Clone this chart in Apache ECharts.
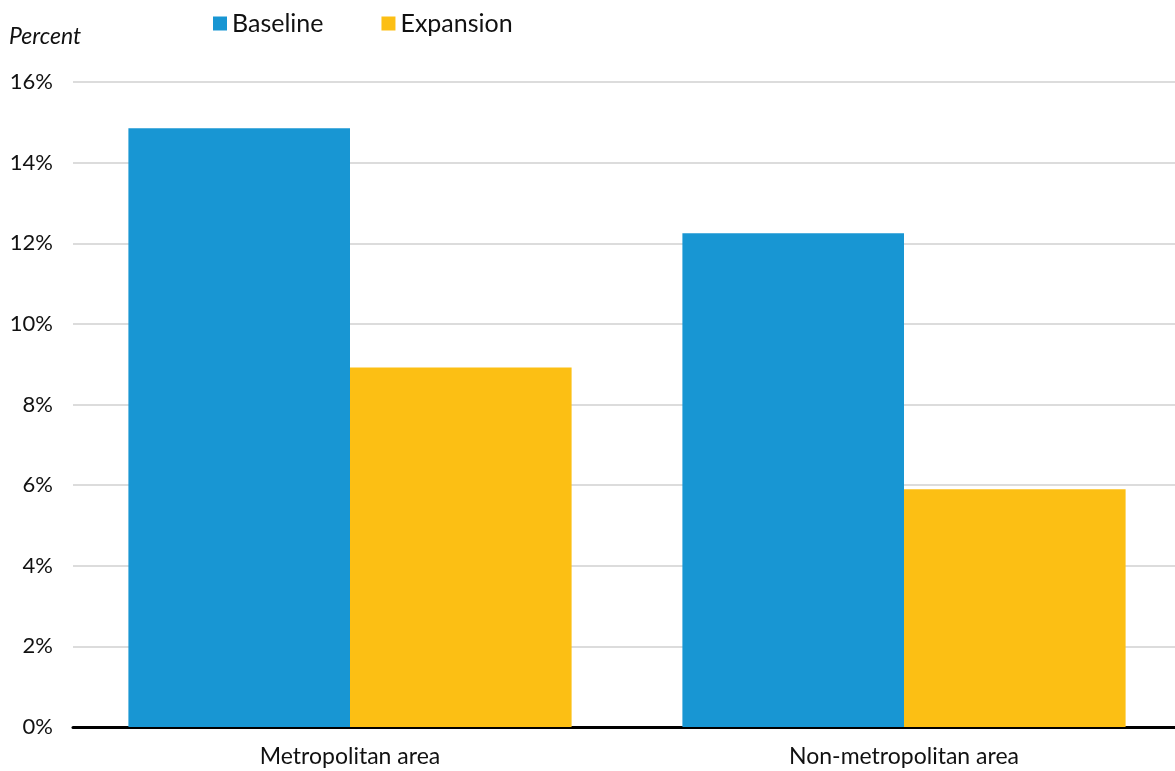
<!DOCTYPE html>
<html><head><meta charset="utf-8">
<script src="https://cdn.jsdelivr.net/npm/echarts@6/dist/echarts.min.js"></script>
<style>html,body{margin:0;padding:0;background:#fff;overflow:hidden}#c{width:1190px;height:771px}</style>
</head><body><div id="c"></div>
<script>
const categories = ["Metropolitan area", "Non-metropolitan area"];
const baseline = [14.85, 12.25];
const expansion = [8.92, 5.9];
const yTicks = [0, 2, 4, 6, 8, 10, 12, 14, 16];

const chart = echarts.init(document.getElementById('c'), null, {renderer: 'canvas'});
const font = 'Lato, "Open Sans", sans-serif';
chart.setOption({
  animation: false,
  textStyle: {fontFamily: font},
  grid: {left: 73, width: 1108, top: 82, bottom: 44, containLabel: false},
  legend: {
    left: 208, top: 6, itemWidth: 14, itemHeight: 14, itemGap: 58,
    icon: 'rect',
    textStyle: {fontSize: 25, color: '#111', fontFamily: font},
    data: ['Baseline', 'Expansion']
  },
  graphic: [{type: 'text', left: 9, top: 25, style: {text: 'Percent', font: 'italic 23px Lato, sans-serif', fill: '#111'}}],
  xAxis: {
    type: 'category', data: categories,
    axisLine: {lineStyle: {color: '#000', width: 3}},
    axisTick: {show: false},
    axisLabel: {fontSize: 23, color: '#111', margin: 18, fontFamily: font}
  },
  yAxis: {
    type: 'value', min: yTicks[0], max: yTicks[yTicks.length - 1], interval: 2,
    axisLine: {show: false}, axisTick: {show: false},
    splitLine: {lineStyle: {color: '#dcdcdc', width: 2}},
    axisLabel: {fontSize: 22, color: '#111', margin: 20, formatter: '{value}%', fontFamily: font}
  },
  series: [
    {name: 'Baseline', type: 'bar', data: baseline, barWidth: '40%', barGap: '0%', itemStyle: {color: '#1896d3'}},
    {name: 'Expansion', type: 'bar', data: expansion, barWidth: '40%', barGap: '0%', itemStyle: {color: '#fcbf14'}}
  ]
});
</script></body></html>
